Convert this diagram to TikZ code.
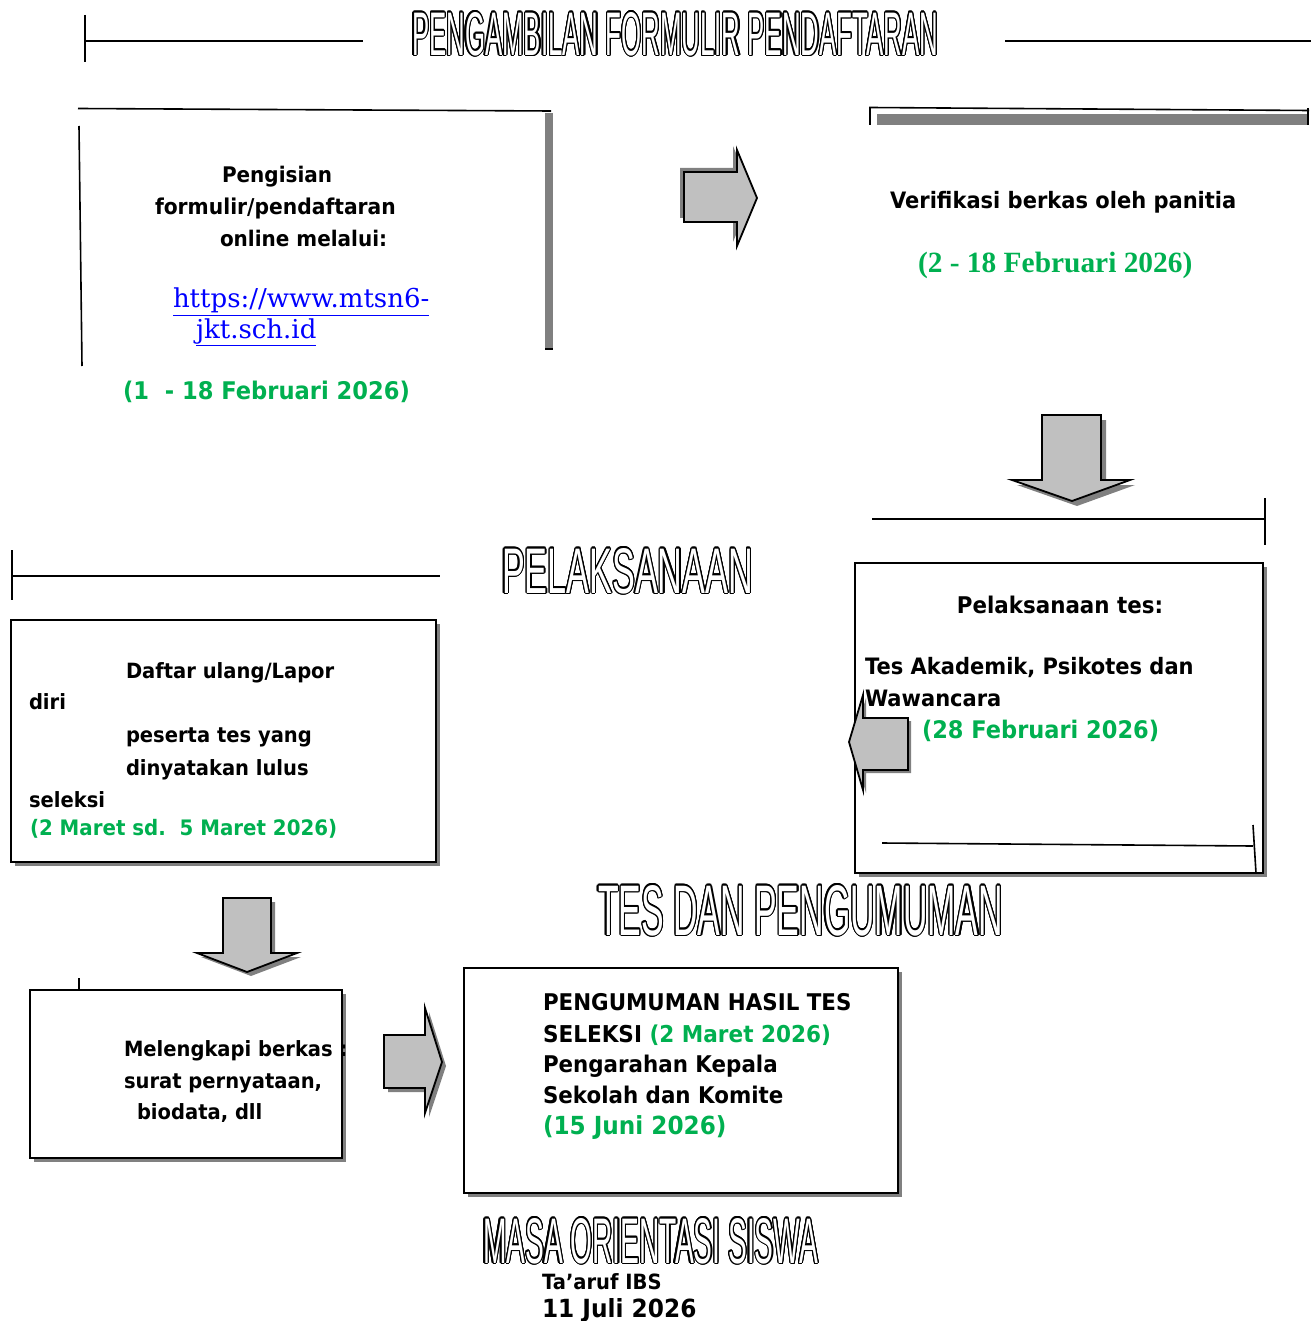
\documentclass[tikz,border=0pt]{standalone}
\usepackage{fontspec}
\usepackage{contour}
\usetikzlibrary{shadows}
\setmainfont{DejaVu Sans}[FakeStretch=0.93]
\newfontfamily\tahfont{DejaVu Sans}[FakeStretch=0.93]
\newfontfamily\urlfont{DejaVu Serif}
\newfontfamily\serifbfont{Liberation Serif}
\newfontfamily\titlefont{Liberation Sans}
\definecolor{pgreen}{RGB}{0,176,80}
\definecolor{purl}{RGB}{0,0,255}
\definecolor{arrowgray}{RGB}{192,192,192}
\definecolor{shadegray}{RGB}{128,128,128}
\contourlength{1.2pt}
\newcommand{\fs}[1]{\fontsize{#1}{#1}\selectfont}
\newcommand{\titletext}[3]{\textcolor{white}{\contour{black}{\resizebox{#1}{#2}{\titlefont #3}}}}
\newcommand{\blockarrow}[2]{\fill[shadegray, shift={#1}] #2; \draw[arrowst] #2;}
\begin{document}
\begin{tikzpicture}[x=1pt, y=-1pt,
  every node/.style={inner sep=0pt, outer sep=0pt},
  ln/.style={line width=1.6pt, line cap=butt},
  boxst/.style={rectangle, draw=black, line width=2pt, fill=white,
    drop shadow={shadow xshift=4pt, shadow yshift=-4pt, fill=shadegray, opacity=1}},
  arrowst/.style={fill=arrowgray, draw=black, line width=1.8pt, line join=miter},
  txt/.style={anchor=base west, font=\tahfont\bfseries},
  ctxt/.style={anchor=base, font=\tahfont\bfseries},
  grn/.style={text=pgreen}]
\useasboundingbox (0,0) rectangle (1311,1321);

% ---------- titles ----------
\node[anchor=north west] (h1) at (412,12) {\titletext{526pt}{43pt}{PENGAMBILAN FORMULIR PENDAFTARAN}};
\node[anchor=north west] (h2) at (502,548) {\titletext{251pt}{45pt}{PELAKSANAAN}};
\node[anchor=north west] (h3) at (598,885) {\titletext{405pt}{50pt}{TES DAN PENGUMUMAN}};
\node[anchor=north west] (h4) at (483,1218) {\titletext{335pt}{45pt}{MASA ORIENTASI SISWA}};

% ---------- rules with ticks ----------
\draw[ln] (85,15) -- (85,62);
\draw[ln] (85,41) -- (363,41);
\draw[ln] (1005,41) -- (1311,41);

\draw[ln] (78,108.5) -- (551,111);
\draw[ln] (79,126) -- (82,366);
\fill[shadegray] (545,113) rectangle (553,349);
\draw[ln] (545,349) -- (553,349);

\draw[ln] (870,125) -- (870,107.5) -- (1309,110.5);
\fill[shadegray] (877,114) rectangle (1307,125);
\draw[ln] (1308,108) -- (1308,125);

\draw[ln] (872,519) -- (1265,519);
\draw[ln] (1265,498) -- (1265,545);

\draw[ln] (12,550) -- (12,600);
\draw[ln] (12,576) -- (440,576);

\draw[ln] (79,978) -- (79,990);

% ---------- boxes ----------
\node[boxst, anchor=north west, minimum width=408pt, minimum height=310pt] (bTes) at (855,563) {};
\draw[ln] (882,843) -- (1253,846);
\draw[ln] (1253,825) -- (1256,873);
\node[boxst, anchor=north west, minimum width=425pt, minimum height=242pt] (bDaftar) at (11,620) {};
\node[boxst, anchor=north west, minimum width=312pt, minimum height=168pt] (bLengkap) at (30,990) {};
\node[boxst, anchor=north west, minimum width=434pt, minimum height=225pt] (bUmum) at (464,968) {};

% ---------- block arrows ----------
\blockarrow{(-4,-4)}{(684,172) -- (737,172) -- (737,150) -- (757,198) -- (737,246) -- (737,222) -- (684,222) -- cycle}
\blockarrow{(5,5)}{(1042,415) -- (1101,415) -- (1101,480) -- (1130,480) -- (1072,501) -- (1012,480) -- (1042,480) -- cycle}
\blockarrow{(3,3)}{(849,742) -- (863,695) -- (863,718) -- (908,718) -- (908,770) -- (863,770) -- (863,790) -- cycle}
\blockarrow{(4,4)}{(223,898) -- (271,898) -- (271,953) -- (297,953) -- (247,972) -- (197,953) -- (223,953) -- cycle}
\blockarrow{(4,4)}{(384,1035) -- (425,1035) -- (425,1008) -- (442,1062) -- (425,1113) -- (425,1088) -- (384,1088) -- cycle}

% ---------- box 1 text ----------
\node[txt, font=\tahfont\bfseries\fs{21.5}] (t1a) at (222,183) {Pengisian};
\node[txt, font=\tahfont\bfseries\fs{21.8}] (t1b) at (155,215) {formulir/pendaftaran};
\node[txt, font=\tahfont\bfseries\fs{21.5}] (t1c) at (220,247) {online melalui:};
\node[anchor=base west, font=\urlfont\fs{26}, text=purl] (t1d) at (173,308) {\underline{https://www.mtsn6-}};
\node[anchor=base west, font=\urlfont\fs{26}, text=purl] (t1e) at (196,338) {\underline{jkt.sch.id}};
\node[txt, grn, font=\tahfont\bfseries\fs{24.3}] (t1f) at (123,399) {(1\ \ - 18 Februari 2026)};

% ---------- box 2 text ----------
\node[txt, font=\tahfont\bfseries\fs{22.6}] (t2a) at (890,209) {Verifikasi berkas oleh panitia};
\node[anchor=base west, grn, font=\serifbfont\bfseries\fs{29.4}] (t2b) at (918,273) {(2 - 18 Februari 2026)};

% ---------- tes box text ----------
\node[ctxt, font=\tahfont\bfseries\fs{23}] (t3a) at (1060,613) {Pelaksanaan tes:};
\node[txt, font=\tahfont\bfseries\fs{22.6}] (t3b) at (865,674) {Tes Akademik, Psikotes dan};
\node[txt, font=\tahfont\bfseries\fs{22.6}] (t3c) at (865,706) {Wawancara};
\node[txt, grn, font=\tahfont\bfseries\fs{24.2}] (t3d) at (922,738) {(28 Februari 2026)};

% ---------- daftar ulang text ----------
\node[txt, font=\tahfont\bfseries\fs{21}] (t4a) at (126,678) {Daftar ulang/Lapor};
\node[txt, font=\tahfont\bfseries\fs{21}] (t4b) at (29,709) {diri};
\node[txt, font=\tahfont\bfseries\fs{21}] (t4c) at (126,742) {peserta tes yang};
\node[txt, font=\tahfont\bfseries\fs{21}] (t4d) at (126,775) {dinyatakan lulus};
\node[txt, font=\tahfont\bfseries\fs{21}] (t4e) at (29,807) {seleksi};
\node[txt, grn, font=\tahfont\bfseries\fs{21.3}] (t4f) at (30,835) {(2 Maret sd.\ \ 5 Maret 2026)};

% ---------- melengkapi text ----------
\node[txt, font=\tahfont\bfseries\fs{21}] (t5a) at (124,1056) {Melengkapi berkas :};
\node[txt, font=\tahfont\bfseries\fs{21}] (t5b) at (124,1088) {surat pernyataan,};
\node[txt, font=\tahfont\bfseries\fs{21}] (t5c) at (137,1119) {biodata, dll};

% ---------- pengumuman text ----------
\node[txt, font=\tahfont\bfseries\fs{23}] (t6a) at (543,1010) {PENGUMUMAN HASIL TES};
\node[txt, font=\tahfont\bfseries\fs{23.2}] (t6b) at (543,1042) {SELEKSI \textcolor{pgreen}{(2 Maret 2026)}};
\node[txt, font=\tahfont\bfseries\fs{23}] (t6c) at (543,1072) {Pengarahan Kepala};
\node[txt, font=\tahfont\bfseries\fs{23}] (t6d) at (543,1103) {Sekolah dan Komite};
\node[txt, grn, font=\tahfont\bfseries\fs{24.9}] (t6e) at (543,1134) {(15 Juni 2026)};

% ---------- MOS text ----------
\node[txt, font=\tahfont\bfseries\fs{21}] (t7a) at (542,1289) {Ta’aruf IBS};
\node[txt, font=\tahfont\bfseries\fs{25}] (t7b) at (542,1317) {11 Juli 2026};
\end{tikzpicture}
\end{document}
